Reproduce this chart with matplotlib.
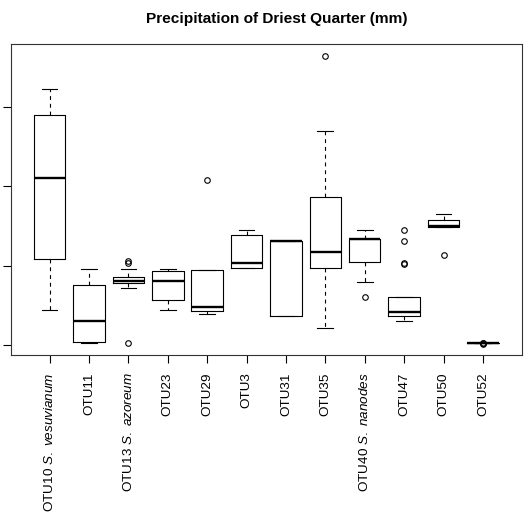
import matplotlib
matplotlib.use("Agg")
import matplotlib.pyplot as plt

plt.rcParams['font.family'] = ['Liberation Sans', 'DejaVu Sans']
plt.rcParams['mathtext.fontset'] = 'custom'
plt.rcParams['mathtext.rm'] = 'Liberation Sans'
plt.rcParams['mathtext.it'] = 'Liberation Sans:italic'

title = "Precipitation of Driest Quarter (mm)"
labels = ["OTU10 $\\it{S.\\ vesuvianum}$", "OTU11", "OTU13 $\\it{S.\\ azoreum}$",
          "OTU23", "OTU29", "OTU3", "OTU31", "OTU35",
          "OTU40 $\\it{S.\\ nanodes}$", "OTU47", "OTU50", "OTU52"]
whislo = [22.4, 1.0, 36.0, 22.4, 19.6, 48.4, 18.6, 10.6, 40.0, 15.0, 74.5, 1.0]
q1 = [54.3, 1.8, 39.2, 28.7, 21.7, 48.4, 18.6, 48.4, 52.6, 18.6, 74.5, 1.0]
med = [105.5, 15.0, 40.4, 40.4, 24.1, 51.5, 65.7, 58.5, 66.7, 20.7, 74.9, 1.0]
q3 = [144.8, 38.1, 43.0, 46.9, 47.1, 69.6, 65.7, 93.4, 66.7, 30.1, 79.1, 1.0]
whishi = [161.6, 48.2, 48.2, 48.2, 47.1, 72.8, 65.7, 134.7, 72.8, 30.1, 82.4, 1.0]
fliers = [[], [], [52.0, 52.8, 1.4], [], [103.7], [], [], [182.4], [30.4],
          [72.8, 65.7, 51.0, 51.8], [56.6], [0.6, 1.0, 1.4]]
yticks = [0, 50, 100, 150]

W, H = 531, 513
fig = plt.figure(figsize=(W / 100, H / 100), dpi=100)
ax = fig.add_axes([11 / W, 1 - 355 / H, 510.5 / W, 311 / H])

stats = []
for i in range(len(labels)):
    stats.append(dict(whislo=whislo[i], q1=q1[i], med=med[i], q3=q3[i],
                      whishi=whishi[i], fliers=fliers[i]))

pos = list(range(1, len(labels) + 1))
ax.bxp(stats, positions=pos, widths=0.8, capwidths=0.4,
       boxprops=dict(color='black', linewidth=0.8),
       medianprops=dict(color='black', linewidth=1.7, solid_capstyle='butt'),
       whiskerprops=dict(color='black', linewidth=0.8, linestyle=(0, (3.5, 3.5))),
       capprops=dict(color='black', linewidth=0.8),
       flierprops=dict(marker='o', markerfacecolor='none', markeredgecolor='black',
                       markersize=4, markeredgewidth=0.8, linestyle='none'))

ax.set_xlim(0.02, 12.98)
ax.set_ylim(-6.26, 189.7)
ax.set_yticks(yticks)
ax.set_yticklabels([])
ax.set_xticks(pos)
ax.set_xticklabels(labels, rotation=90, fontsize=9.7)
ax.tick_params(axis='both', length=5.5, width=0.8, color='black', pad=7)
for s in ax.spines.values():
    s.set_linewidth(0.8)
    s.set_color('#333333')

fig.text(277 / W, 1 - 23 / H, title, ha='center', va='baseline',
         fontsize=11.1, fontweight='bold')

fig.savefig("out.png", dpi=100)
